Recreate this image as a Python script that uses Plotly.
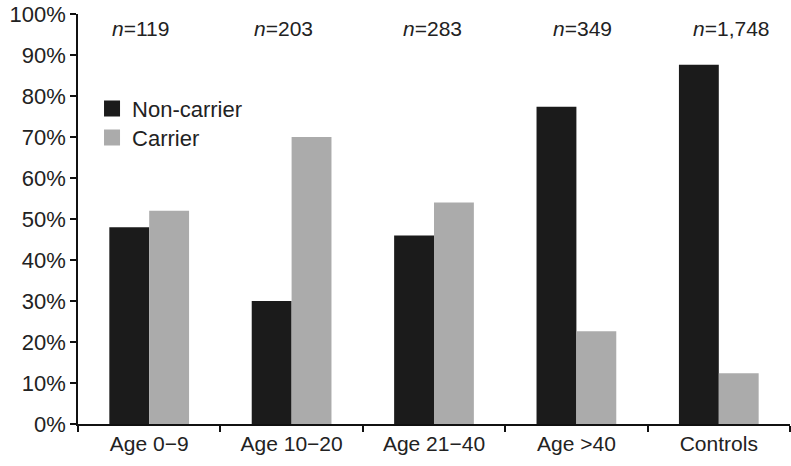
import plotly.graph_objects as go

categories = ["Age 0\u22129", "Age 10\u221220", "Age 21\u221240", "Age >40", "Controls"]
non_carrier = [48, 30, 46, 77.4, 87.6]
carrier = [52, 70, 54, 22.6, 12.4]
n_labels = ["119", "203", "283", "349", "1,748"]
n_shift = [-9, -8, -2, 6, 13]
y_ticks = list(range(0, 101, 10))
y_tick_text = [f"{v}%" for v in y_ticks]

BLACK = "#1b1b1b"
GRAY = "#ababab"
TXT = "#222222"
FONT = "Liberation Sans, Arial, sans-serif"

fig = go.Figure()
fig.add_trace(go.Bar(x=categories, y=non_carrier, name="Non-carrier",
                     marker=dict(color=BLACK, line=dict(width=0)), showlegend=False))
fig.add_trace(go.Bar(x=categories, y=carrier, name="Carrier",
                     marker=dict(color=GRAY, line=dict(width=0)), showlegend=False))
# legend entries
fig.add_trace(go.Scatter(x=[None], y=[None], mode="markers", name="Non-carrier",
                         legend="legend",
                         marker=dict(symbol="square", size=17, color=BLACK)))
fig.add_trace(go.Scatter(x=[None], y=[None], mode="markers", name="Carrier",
                         legend="legend2",
                         marker=dict(symbol="square", size=17, color=GRAY)))

for c, n, s in zip(categories, n_labels, n_shift):
    fig.add_annotation(x=c, y=1, yref="paper", yanchor="middle", yshift=-14,
                       xshift=s, text="<i>n</i>=" + n, showarrow=False,
                       font=dict(size=21, color=TXT, family=FONT))

legend_common = dict(xanchor="left", yanchor="top", bgcolor="rgba(0,0,0,0)",
                     font=dict(size=22, color=TXT), itemsizing="trace")

fig.update_layout(
    width=791, height=466,
    margin=dict(l=78, r=1, t=14, b=42),
    paper_bgcolor="white", plot_bgcolor="white",
    barmode="group", bargap=0.44, bargroupgap=0,
    font=dict(family=FONT, size=21, color=TXT),
    legend=dict(x=0.0197, y=0.8205, **legend_common),
    legend2=dict(x=0.0197, y=0.7498, **legend_common),
    xaxis=dict(showline=True, linecolor="#111", linewidth=1.5,
               ticks="outside", tickson="boundaries", ticklen=6, tickwidth=1.5,
               tickcolor="#111", showgrid=False, zeroline=False, automargin=False,
               tickfont=dict(size=21, color=TXT)),
    yaxis=dict(range=[0, 100], tickmode="array", tickvals=y_ticks, ticktext=y_tick_text,
               showline=True, linecolor="#111", linewidth=1.5,
               ticks="outside", ticklen=6, tickwidth=1.5, tickcolor="#111",
               showgrid=False, zeroline=False, automargin=False,
               ticklabeloverflow="allow",
               tickfont=dict(size=22, color=TXT)),
)

fig.write_html("out.html", config={"displayModeBar": False},
               post_script="document.body.style.margin='0';document.body.style.overflow='hidden';")
